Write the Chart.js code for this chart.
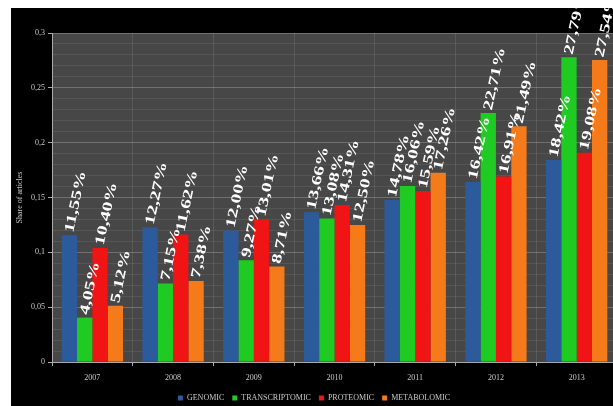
<!DOCTYPE html>
<html>
<head>
<meta charset="utf-8">
<script src="https://cdn.jsdelivr.net/npm/chart.js@4.4.0/dist/chart.umd.min.js"></script>
<style>
html,body{margin:0;padding:0;background:#fff;overflow:hidden;width:613px;height:406px;}
canvas{display:block;}
</style>
</head>
<body>
<canvas id="c" width="630" height="412"></canvas>
<script>
const years = ['2007','2008','2009','2010','2011','2012','2013'];
const seriesNames = ['GENOMIC','TRANSCRIPTOMIC','PROTEOMIC','METABOLOMIC'];
const genomic        = [11.55, 12.27, 12.00, 13.66, 14.78, 16.42, 18.42];
const transcriptomic = [4.05, 7.15, 9.27, 13.08, 16.06, 22.71, 27.79];
const proteomic      = [10.40, 11.62, 13.01, 14.31, 15.59, 16.91, 19.08];
const metabolomic    = [5.12, 7.38, 8.71, 12.50, 17.26, 21.49, 27.54];
const yTickLabels = ['0','0,05','0,1','0,15','0,2','0,25','0,3'];
const yTitle = 'Share of articles';

const colors = ['#2c5b9c','#1fcb22','#f01414','#f57a1a'];
const allSeries = [genomic, transcriptomic, proteomic, metabolomic];

const bgPlugin = {
  id: 'bg',
  beforeDraw(chart) {
    const ctx = chart.ctx, a = chart.chartArea;
    ctx.save();
    ctx.fillStyle = '#000';
    ctx.fillRect(11, 8, chart.width, chart.height);
    ctx.fillStyle = '#474747';
    ctx.fillRect(a.left, a.top, a.right - a.left, a.bottom - a.top);
    ctx.restore();
  }
};

const labelPlugin = {
  id: 'vlabels',
  afterDatasetsDraw(chart) {
    const ctx = chart.ctx;
    ctx.save();
    ctx.fillStyle = '#ffffff';
    ctx.font = 'bold 14px "Liberation Serif", "DejaVu Serif", serif';
    ctx.textAlign = 'left';
    ctx.textBaseline = 'middle';
    chart.data.datasets.forEach((ds, di) => {
      const meta = chart.getDatasetMeta(di);
      meta.data.forEach((el, i) => {
        const txt = allSeries[di][i].toFixed(2).replace('.', ',') + '%';
        ctx.save();
        ctx.translate(el.x, el.y - 3);
        ctx.rotate(-78 * Math.PI / 180);
        ctx.scale(1.4, 1);
        ctx.fillText(txt, 0, 0);
        ctx.restore();
      });
    });
    ctx.restore();
  }
};

new Chart(document.getElementById('c'), {
  type: 'bar',
  data: {
    labels: years,
    datasets: allSeries.map((s, i) => ({
      label: seriesNames[i],
      data: s.map(v => v / 100),
      backgroundColor: colors[i],
      borderWidth: 0,
      categoryPercentage: 0.76,
      barPercentage: 1.0
    }))
  },
  options: {
    responsive: false,
    animation: false,
    layout: { padding: { left: 11, right: 13, top: 33, bottom: 0 } },
    plugins: {
      legend: {
        position: 'bottom',
        labels: {
          color: '#c8c8c8',
          font: { family: '"Liberation Serif", serif', size: 8 },
          boxWidth: 5, boxHeight: 5, padding: 8
        }
      },
      tooltip: { enabled: false }
    },
    scales: {
      x: {
        grid: { color: 'rgba(255,255,255,0.10)', offset: true, tickLength: 4, tickColor: '#aaa' },
        border: { color: '#aaa' },
        ticks: { color: '#c8c8c8', font: { family: '"Liberation Serif", serif', size: 8 }, padding: 7 },
        afterFit(s) { s.height = 24; }
      },
      y: {
        min: 0, max: 0.3,
        ticks: {
          stepSize: 0.05,
          color: '#c8c8c8',
          font: { family: '"Liberation Serif", serif', size: 8 },
          padding: 3,
          callback: (v, i) => yTickLabels[i]
        },
        grid: { color: 'rgba(255,255,255,0.16)', tickLength: 4, tickColor: '#aaa' },
        border: { color: '#aaa' },
        title: { display: true, text: yTitle, color: '#c8c8c8', font: { family: '"Liberation Serif", serif', size: 8 }, padding: 4 },
        afterFit(s) { s.width = 41; }
      },
      y2: {
        min: 0, max: 0.3, display: true,
        position: 'right',
        ticks: { stepSize: 0.01, display: false },
        grid: { color: 'rgba(255,255,255,0.08)', drawTicks: false },
        border: { display: false },
        afterFit(s) { s.width = 0; }
      }
    }
  },
  plugins: [bgPlugin, labelPlugin]
});
</script>
</body>
</html>
